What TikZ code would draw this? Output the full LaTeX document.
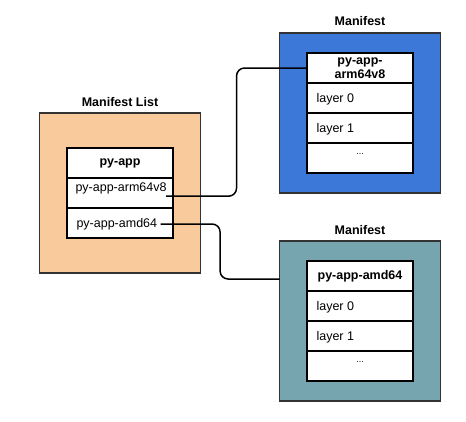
\documentclass[tikz,border=0pt]{standalone}
\usepackage{fontspec}
\setmainfont{Liberation Sans}
\usetikzlibrary{positioning, calc}
\definecolor{listfill}{HTML}{F9CB9C}
\definecolor{armfill}{HTML}{3C78D8}
\definecolor{amdfill}{HTML}{76A5AF}
\definecolor{edgegray}{HTML}{333333}

\begin{document}
\begin{tikzpicture}[x=1pt, y=-1pt, font=\fontsize{12.5}{14}\selectfont,
    outer/.style={draw=edgegray, line width=1.6pt, minimum width=161, minimum height=160, inner sep=0, outer sep=0},
    cell/.style={draw=black, line width=1.6pt, fill=white, minimum width=106, minimum height=30, inner sep=0, outer sep=0},
    title/.style={font=\fontsize{12.5}{14}\selectfont\bfseries},
    link/.style={line width=1.5pt, rounded corners=8pt}]
    \useasboundingbox (0,0) rectangle (466,421);

    % manifest list
    \node[outer, fill=listfill] (list) at (120,193) {};
    \node[title] (listtitle) at ($(list.north)+(0,-11)$) {Manifest List};
    \node[cell, font=\fontsize{12.5}{14}\selectfont\bfseries] (app) at (120,163) {py-app};
    \node[cell, below=0pt of app] (arm) {};
    \node[cell, below=0pt of arm] (amd) {};
    \node[anchor=west] (armtxt) at ($(arm.west)+(5,-5)$) {py-app-arm64v8};
    \node[anchor=west] (amdtxt) at ($(amd.west)+(6,1)$) {py-app-amd64};

    % manifest arm64v8
    \node[outer, fill=armfill] (armbox) at (360,113) {};
    \node[title] (armtitle) at ($(armbox.north)+(0,-12)$) {Manifest};
    \node[cell, font=\fontsize{12.5}{13.5}\selectfont\bfseries, align=center] (armhead) at (360,68) {py-app-\\arm64v8};
    \node[cell, below=0pt of armhead] (armzero) {};
    \node[cell, below=0pt of armzero] (armone) {};
    \node[cell, below=0pt of armone] (armrest) {};
    \node[anchor=west] at ($(armzero.west)+(6,1)$) {layer 0};
    \node[anchor=west] at ($(armone.west)+(6,1)$) {layer 1};
    \node[font=\fontsize{9}{10}\selectfont] at ($(armrest.center)+(0,-4)$) {...};

    % manifest amd64
    \node[outer, fill=amdfill] (amdbox) at (360,321) {};
    \node[title] (amdtitle) at ($(amdbox.north)+(0,-11)$) {Manifest};
    \node[cell, font=\fontsize{12.5}{14}\selectfont\bfseries] (amdhead) at (360,276) {py-app-amd64};
    \node[cell, below=0pt of amdhead] (amdzero) {};
    \node[cell, below=0pt of amdzero] (amdone) {};
    \node[cell, below=0pt of amdone] (amdrest) {};
    \node[anchor=west] at ($(amdzero.west)+(6,1)$) {layer 0};
    \node[anchor=west] at ($(amdone.west)+(6,1)$) {layer 1};
    \node[font=\fontsize{9}{10}\selectfont] at ($(amdrest.center)+(0,-4)$) {...};

    % links
    \coordinate (armout) at ($(armtxt.south east)+(-4,-1)$);
    \coordinate (amdin) at ($(amdbox.north west)+(0,38)$);
    \draw[link] (armout) -| ($(armout)!.5!(armhead.west)$) |- (armhead.west);
    \draw[link] (amdtxt.east) -| ($(amdtxt.east)!.5!(amdin)$) |- (amdin);
\end{tikzpicture}
\end{document}
